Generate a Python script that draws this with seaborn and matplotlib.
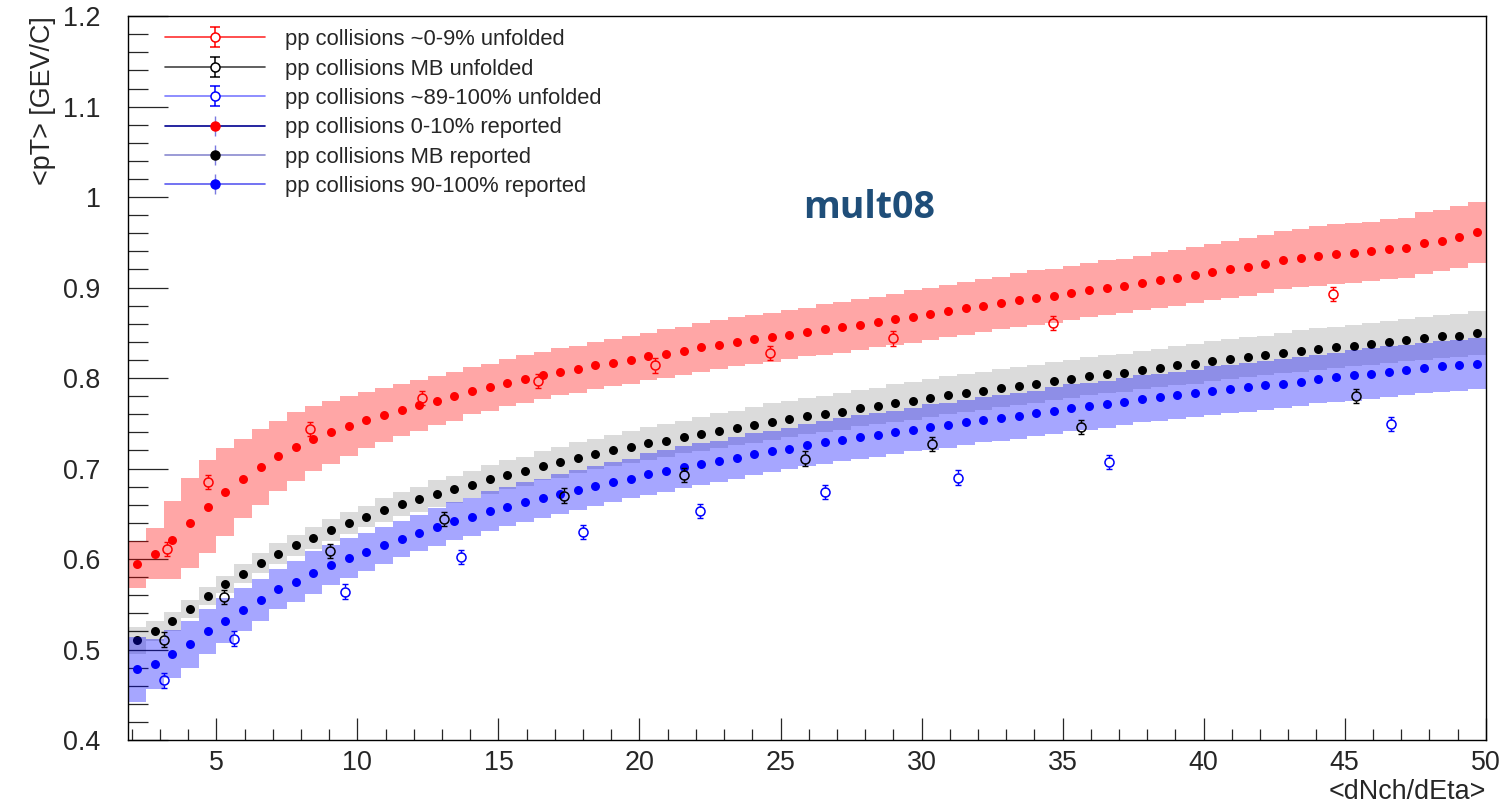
import numpy as np
import seaborn as sns
import matplotlib.pyplot as plt
from matplotlib.lines import Line2D
from matplotlib.path import Path
from matplotlib.legend_handler import HandlerTuple
from matplotlib.ticker import MultipleLocator, FuncFormatter

## data
# binning of the reported curves (<dNch/dEta>)
bin_lo, bin_hi, n_bins = 1.88, 50.0, 77

red_rep = [0.594, 0.606, 0.621, 0.640, 0.658, 0.674, 0.689, 0.702, 0.714, 0.724,
           0.733, 0.740, 0.747, 0.754, 0.759, 0.765, 0.770, 0.775, 0.780, 0.786,
           0.790, 0.795, 0.799, 0.803, 0.807, 0.810, 0.814, 0.817, 0.820, 0.824,
           0.827, 0.830, 0.834, 0.837, 0.840, 0.843, 0.845, 0.848, 0.851, 0.854,
           0.856, 0.859, 0.862, 0.865, 0.868, 0.871, 0.874, 0.877, 0.880, 0.883,
           0.886, 0.889, 0.891, 0.894, 0.897, 0.900, 0.902, 0.905, 0.908, 0.911,
           0.914, 0.917, 0.920, 0.923, 0.926, 0.930, 0.933, 0.935, 0.937, 0.938,
           0.940, 0.943, 0.944, 0.949, 0.952, 0.956, 0.961]
black_rep = [0.510, 0.520, 0.531, 0.545, 0.559, 0.572, 0.584, 0.596, 0.606, 0.615,
             0.623, 0.632, 0.640, 0.647, 0.654, 0.661, 0.666, 0.672, 0.677, 0.682,
             0.688, 0.693, 0.697, 0.703, 0.707, 0.712, 0.716, 0.720, 0.724, 0.728,
             0.731, 0.735, 0.738, 0.742, 0.745, 0.748, 0.752, 0.755, 0.758, 0.760,
             0.763, 0.767, 0.769, 0.772, 0.775, 0.778, 0.781, 0.783, 0.786, 0.789,
             0.791, 0.794, 0.797, 0.799, 0.802, 0.804, 0.806, 0.809, 0.811, 0.814,
             0.816, 0.819, 0.821, 0.823, 0.825, 0.828, 0.830, 0.832, 0.834, 0.836,
             0.838, 0.840, 0.842, 0.844, 0.846, 0.847, 0.850]
blue_rep = [0.478, 0.484, 0.495, 0.506, 0.520, 0.532, 0.544, 0.555, 0.567, 0.575,
            0.585, 0.593, 0.601, 0.608, 0.615, 0.622, 0.629, 0.635, 0.642, 0.647,
            0.653, 0.658, 0.663, 0.667, 0.672, 0.676, 0.681, 0.685, 0.689, 0.694,
            0.697, 0.702, 0.705, 0.708, 0.712, 0.716, 0.719, 0.722, 0.726, 0.729,
            0.732, 0.735, 0.737, 0.740, 0.743, 0.746, 0.748, 0.751, 0.754, 0.756,
            0.758, 0.761, 0.764, 0.767, 0.769, 0.771, 0.774, 0.777, 0.779, 0.781,
            0.783, 0.786, 0.788, 0.790, 0.792, 0.794, 0.796, 0.799, 0.801, 0.803,
            0.805, 0.807, 0.809, 0.811, 0.813, 0.814, 0.816]

# systematic half-widths (the shaded boxes)
red_sys = [0.026, 0.028, 0.043, 0.050, 0.051, 0.049, 0.044, 0.042, 0.039, 0.038,
           0.036, 0.035, 0.033, 0.031, 0.030, 0.029, 0.028, 0.027, 0.027, 0.026,
           0.026, 0.026, 0.026, 0.026, 0.026, 0.026, 0.026, 0.026, 0.026, 0.026,
           0.027, 0.027, 0.027, 0.027, 0.027, 0.027, 0.027, 0.027, 0.027, 0.028,
           0.028, 0.028, 0.028, 0.028, 0.029, 0.029, 0.029, 0.029, 0.029, 0.029,
           0.030, 0.030, 0.030, 0.030, 0.030, 0.030, 0.030, 0.030, 0.031, 0.031,
           0.031, 0.031, 0.032, 0.032, 0.032, 0.032, 0.032, 0.033, 0.033, 0.033,
           0.033, 0.033, 0.033, 0.034, 0.034, 0.034, 0.034]
black_sys = [0.015, 0.011, 0.010, 0.010, 0.010, 0.009, 0.010, 0.011, 0.012, 0.012,
             0.012, 0.012, 0.012, 0.012, 0.013, 0.013, 0.014, 0.015, 0.015, 0.015,
             0.016, 0.016, 0.016, 0.016, 0.017, 0.017, 0.017, 0.017, 0.018, 0.018,
             0.018, 0.018, 0.019, 0.019, 0.019, 0.020, 0.020, 0.020, 0.020, 0.020,
             0.020, 0.020, 0.020, 0.021, 0.021, 0.021, 0.021, 0.021, 0.021, 0.021,
             0.021, 0.021, 0.021, 0.021, 0.021, 0.021, 0.021, 0.021, 0.021, 0.022,
             0.022, 0.022, 0.022, 0.022, 0.022, 0.022, 0.023, 0.023, 0.023, 0.023,
             0.023, 0.023, 0.023, 0.024, 0.024, 0.024, 0.024]
blue_sys = [0.036, 0.028, 0.027, 0.026, 0.025, 0.025, 0.024, 0.023, 0.022, 0.023,
            0.024, 0.022, 0.022, 0.021, 0.020, 0.020, 0.020, 0.021, 0.021, 0.021,
            0.022, 0.022, 0.022, 0.022, 0.022, 0.022, 0.022, 0.022, 0.022, 0.023,
            0.023, 0.023, 0.023, 0.023, 0.023, 0.023, 0.023, 0.023, 0.023, 0.024,
            0.024, 0.024, 0.024, 0.024, 0.024, 0.025, 0.025, 0.025, 0.025, 0.025,
            0.025, 0.025, 0.026, 0.026, 0.026, 0.026, 0.026, 0.026, 0.026, 0.026,
            0.026, 0.027, 0.027, 0.027, 0.027, 0.027, 0.027, 0.027, 0.027, 0.028,
            0.028, 0.028, 0.028, 0.028, 0.028, 0.028, 0.028]

# unfolded points (open markers)
red_unf_x = [3.24, 4.69, 8.32, 12.28, 16.41, 20.55, 24.63, 29.00, 34.67, 44.57]
red_unf_y = [0.611, 0.685, 0.744, 0.778, 0.797, 0.814, 0.828, 0.844, 0.861, 0.893]
black_unf_x = [3.13, 5.27, 9.04, 13.08, 17.32, 21.58, 25.87, 30.36, 35.65, 45.40]
black_unf_y = [0.511, 0.558, 0.609, 0.644, 0.670, 0.693, 0.711, 0.727, 0.746, 0.780]
blue_unf_x = [3.13, 5.64, 9.57, 13.67, 18.01, 22.15, 26.58, 31.28, 36.64, 46.63]
blue_unf_y = [0.466, 0.512, 0.564, 0.602, 0.630, 0.653, 0.674, 0.690, 0.707, 0.749]
unf_err = 0.008

labels = ["pp collisions ~0-9% unfolded",
          "pp collisions MB unfolded",
          "pp collisions ~89-100% unfolded",
          "pp collisions 0-10% reported",
          "pp collisions MB reported",
          "pp collisions 90-100% reported"]

edges = np.linspace(bin_lo, bin_hi, n_bins + 1)
centers = 0.5 * (edges[:-1] + edges[1:])

## style
sns.set_style("ticks")
plt.rcParams["font.family"] = ["Liberation Sans", "DejaVu Sans"]

fig, ax = plt.subplots(figsize=(15.03, 8.07), dpi=100)
fig.subplots_adjust(left=0.0854, right=0.9885, top=0.980, bottom=0.083)


def band(vals, errs, color, alpha):
    v = np.asarray(vals)
    e = np.asarray(errs)
    lo = np.append(v - e, v[-1] - e[-1])
    hi = np.append(v + e, v[-1] + e[-1])
    ax.fill_between(edges, lo, hi, step="post", color=color, alpha=alpha,
                    linewidth=0)


def reported(vals, color):
    sns.scatterplot(x=centers, y=vals, color=color, s=42, linewidth=0, ax=ax)


ring = 0.0048


def unfolded(xs, ys, color):
    xs = np.asarray(xs)
    ys = np.asarray(ys)
    ax.vlines(xs, ys + ring, ys + unf_err, color=color, lw=1)
    ax.vlines(xs, ys - unf_err, ys - ring, color=color, lw=1)
    for yy in (ys + unf_err, ys - unf_err):
        ax.plot(xs, yy, ls="none", marker="_", ms=4.5, mew=1, color=color)
    ax.plot(xs, ys, ls="none", marker="o", ms=6.5, mfc="none", mec=color, mew=1.1)


# bands and reported points (blue band drawn over grey)
band(red_rep, red_sys, "red", 0.35)
reported(red_rep, "red")
band(black_rep, black_sys, "black", 0.14)
reported(black_rep, "black")
band(blue_rep, blue_sys, "blue", 0.35)
reported(blue_rep, "blue")

unfolded(red_unf_x, red_unf_y, "red")
unfolded(black_unf_x, black_unf_y, "black")
unfolded(blue_unf_x, blue_unf_y, "blue")

## axes
ax.set_xlim(bin_lo, bin_hi)
ax.set_ylim(0.4, 1.2)
ax.xaxis.set_major_locator(MultipleLocator(5))
ax.xaxis.set_minor_locator(MultipleLocator(1))
ax.yaxis.set_major_locator(MultipleLocator(0.1))
ax.yaxis.set_minor_locator(MultipleLocator(0.02))
ax.yaxis.set_major_formatter(FuncFormatter(lambda v, _: f"{round(v, 2):g}"))
ax.tick_params(axis="y", which="major", direction="in", length=28.8, width=0.9,
               pad=20, labelsize=19.4)
ax.tick_params(axis="y", which="minor", direction="in", length=14.4, width=0.9)
ax.tick_params(axis="x", which="major", direction="in", length=15.8, width=0.9,
               pad=7, labelsize=19.4)
ax.tick_params(axis="x", which="minor", direction="in", length=7.9, width=0.9)
for s in ax.spines.values():
    s.set_linewidth(1.0)
    s.set_color("black")

ax.set_ylabel("<pT> [GEV/C]", loc="top", fontsize=19.4, labelpad=5)
ax.set_xlabel("<dNch/dEta>", loc="right", fontsize=19.4, labelpad=2)

ax.text(0.5457, 0.7348, "mult08", transform=ax.transAxes, ha="center",
        va="center", fontsize=27, fontweight="bold", color="#1f4e79",
        family=["Open Sans", "DejaVu Sans"])

## legend (ROOT-like entries)
ibeam = Path([(0, -1), (0, 1), (-0.45, 1), (0.45, 1), (-0.45, -1), (0.45, -1)],
             [Path.MOVETO, Path.LINETO, Path.MOVETO, Path.LINETO,
              Path.MOVETO, Path.LINETO])

line_cols = ["#ff3030", "#444444", "#7a7aff", "#000090", "#8a8ad0", "#5a5af0"]
mark_cols = ["red", "black", "blue", "red", "black", "blue"]
handles = []
for i, (lc, mc) in enumerate(zip(line_cols, mark_cols)):
    ln = Line2D([], [], color=lc, lw=1.2)
    if i < 3:
        bar = Line2D([], [], ls="none", marker=ibeam, ms=15, mew=1.1, color=mc)
        mk = Line2D([], [], ls="none", marker="o", ms=6.5, mfc="white", mec=mc,
                    mew=1.1)
    else:
        bar = Line2D([], [], ls="none", marker="|", ms=15, mew=1.0, color="#7a7ae0")
        mk = Line2D([], [], ls="none", marker="o", ms=6.5, mfc=mc, mec=mc)
    handles.append((ln, bar, mk))

ax.legend(handles, labels, handler_map={tuple: HandlerTuple(ndivide=1, pad=0)},
          loc="upper left", bbox_to_anchor=(0.027, 0.982), frameon=False,
          fontsize=15.8, handlelength=4.55, handletextpad=0.9, labelspacing=0.38,
          borderpad=0, borderaxespad=0)

plt.savefig("out.png", dpi=100)
